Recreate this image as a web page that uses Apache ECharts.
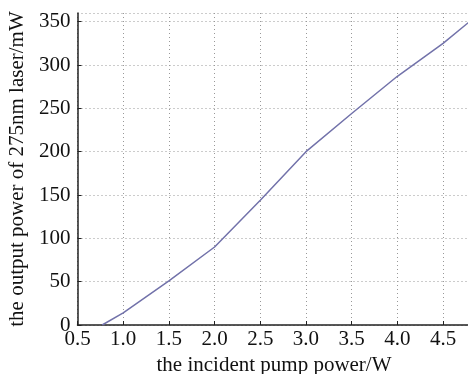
<!DOCTYPE html>
<html>
<head>
<meta charset="utf-8">
<script src="https://cdn.jsdelivr.net/npm/echarts@6/dist/echarts.min.js"></script>
<style>
  html, body { margin: 0; padding: 0; background: #fff; }
  #chart { width: 468px; height: 374px; }
</style>
</head>
<body>
<div id="chart"></div>
<script>
// pump power (W) and output power (mW)
var pumpPower = [0.77, 1.0, 1.5, 2.0, 2.5, 3.0, 3.5, 4.0, 4.5, 4.8]
var outputPower = [0, 14, 51, 90, 144, 200, 244, 287, 325, 351]

var chart = echarts.init(document.getElementById('chart'))
var font = 'Liberation Serif'

chart.setOption({
  backgroundColor: '#fff',
  animation: false,
  grid: {
    left: 77.5,
    right: -2.5,
    top: 13,
    bottom: 49,
    containLabel: false,
    outerBoundsMode: 'none'
  },
  xAxis: {
    type: 'value',
    min: 0.5,
    max: 4.8,
    interval: 0.5,
    name: 'the incident pump power/W',
    nameLocation: 'middle',
    nameGap: 28,
    nameTextStyle: { fontFamily: font, fontSize: 21, color: '#111' },
    axisLine: { show: true, lineStyle: { color: '#222', width: 1.5 } },
    axisTick: { show: true, inside: true, length: 4, lineStyle: { color: '#222' } },
    axisLabel: {
      fontFamily: font, fontSize: 21, color: '#111', margin: 4,
      showMaxLabel: false,
      formatter: function (v) { return v.toFixed(1) }
    },
    splitLine: { show: true, lineStyle: { color: '#999', type: [1, 3], width: 1 } }
  },
  yAxis: {
    type: 'value',
    min: 0,
    max: 360,
    interval: 50,
    name: 'the output power of 275nm laser/mW',
    nameLocation: 'middle',
    nameGap: 47,
    nameTextStyle: { fontFamily: font, fontSize: 21, color: '#111' },
    axisLine: { show: true, lineStyle: { color: '#222', width: 1.5 } },
    axisTick: { show: true, inside: true, length: 4, lineStyle: { color: '#222' } },
    axisLabel: { fontFamily: font, fontSize: 21, color: '#111', margin: 7 },
    splitLine: { show: true, lineStyle: { color: '#999', type: [1, 3], width: 1 } }
  },
  series: [
    {
      type: 'line',
      data: pumpPower.map(function (x, i) { return [x, outputPower[i]] }),
      showSymbol: false,
      clip: true,
      lineStyle: { color: '#7272aa', width: 1.5 }
    }
  ]
})
</script>
</body>
</html>
